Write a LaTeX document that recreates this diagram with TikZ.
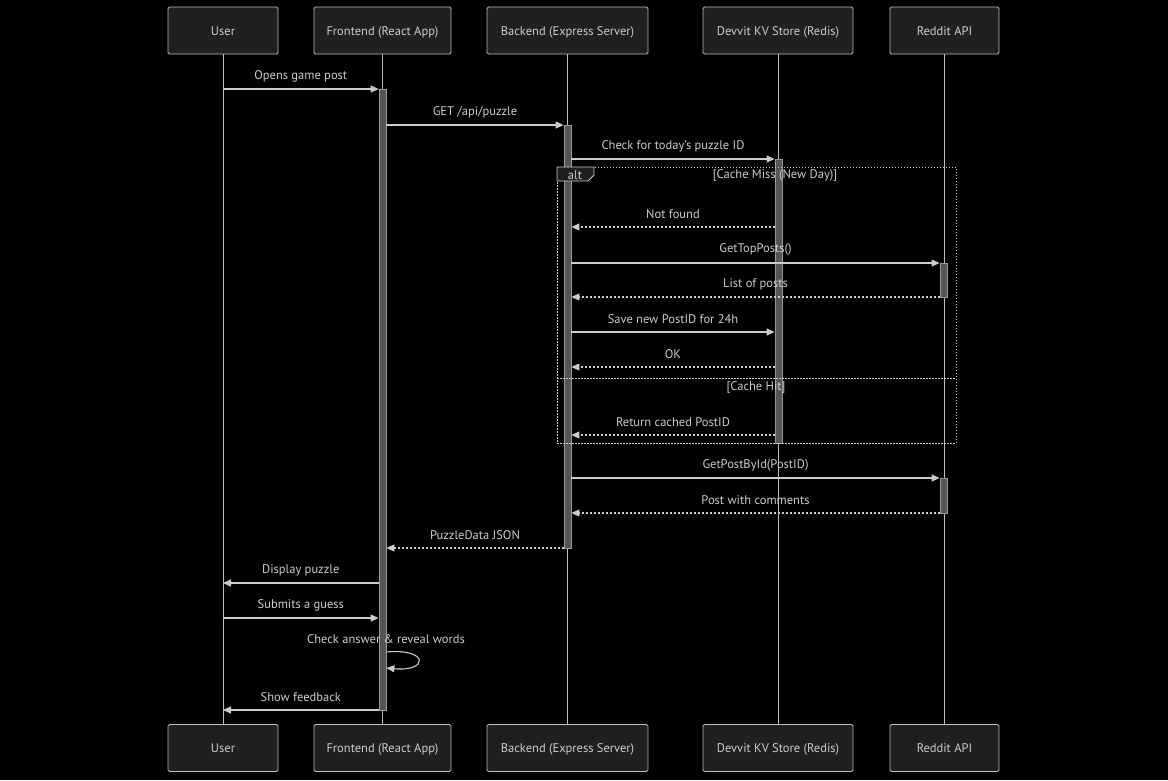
\documentclass[tikz,border=0pt]{standalone}
\usepackage{fontspec}
\setmainfont{PT Sans}
\usetikzlibrary{arrows.meta}
\definecolor{boxfill}{HTML}{1F2020}
\definecolor{boxline}{HTML}{BBBBBB}
\definecolor{txt}{HTML}{CCCCCC}
\definecolor{life}{HTML}{BBBBBB}
\definecolor{actfill}{HTML}{555555}
\definecolor{actline}{HTML}{999999}
\definecolor{msgc}{HTML}{CCCCCC}
\tikzset{
  actor/.style={draw=boxline, fill=boxfill, rounded corners=1.5pt, line width=0.8pt,
    minimum height=47pt, text=txt, font=\fontsize{12.5}{14}\selectfont, inner sep=0pt,
    text height=10pt, text depth=1pt},
  lifeline/.style={draw=life, line width=1pt},
  actbar/.style={draw=actline, fill=actfill, line width=0.8pt, minimum width=7pt, inner sep=0pt},
  msg/.style={draw=msgc, line width=1.1pt, -{Triangle[length=8pt,width=7pt]}},
  reply/.style={msg, dash pattern=on 2pt off 2pt},
  lbl/.style={text=txt, font=\fontsize{12.5}{14}\selectfont, inner sep=0pt},
  frameline/.style={draw=msgc, line width=1pt, dash pattern=on 1.5pt off 1.5pt},
}
\begin{document}
\begin{tikzpicture}[x=1pt,y=-1pt]
\useasboundingbox[fill=black] (0,0) rectangle (1168,780);
% actors top
\node[actor, minimum width=110pt] (u) at (223,30.5) {User};
\node[actor, minimum width=137pt] (fe) at (382.5,30.5) {Frontend (React App)};
\node[actor, minimum width=161pt] (be) at (567.5,30.5) {Backend (Express Server)};
\node[actor, minimum width=150pt] (kv) at (778,30.5) {Devvit KV Store (Redis)};
\node[actor, minimum width=109pt] (ra) at (944.5,30.5) {Reddit API};
% actors bottom
\node[actor, minimum width=110pt] (u2) at (223,748) {User};
\node[actor, minimum width=137pt] (fe2) at (382.5,748) {Frontend (React App)};
\node[actor, minimum width=161pt] (be2) at (567.5,748) {Backend (Express Server)};
\node[actor, minimum width=150pt] (kv2) at (778,748) {Devvit KV Store (Redis)};
\node[actor, minimum width=109pt] (ra2) at (944.5,748) {Reddit API};
% lifelines
\draw[lifeline] (u) -- (u2);
\draw[lifeline] (fe) -- (fe2);
\draw[lifeline] (be) -- (be2);
\draw[lifeline] (kv) -- (kv2);
\draw[lifeline] (ra) -- (ra2);
% activation bars
\node[actbar, minimum height=621pt] (feA) at (382.5,399.5) {};
\node[actbar, minimum height=423pt] (beA) at (567.5,336.5) {};
\node[actbar, minimum height=284pt] (kvA) at (778.5,301) {};
\node[actbar, minimum height=34pt] (raA) at (943.5,280) {};
\node[actbar, minimum height=35pt] (raB) at (943.5,495.5) {};
% alt frame
\draw[frameline] (557,167) rectangle (956,443);
\draw[frameline] (557,378) -- (956,378);
\draw[draw=msgc, fill=boxfill, line width=0.8pt] (557,167) -- (594,167) -- (594,175) -- (588,181) -- (557,181) -- cycle;
\node[lbl] (alt) at (575,175.5) {alt};
\node[lbl] (cm) at (775,175.5) {[Cache Miss (New Day)]};
\node[lbl] (ch) at (756,387.5) {[Cache Hit]};
% messages
\draw[msg] (u |- 0,89) -- (feA.west |- 0,89) node[lbl, midway, yshift=12.5pt] {Opens game post};
\draw[msg] (feA.east |- 0,125) -- (beA.west |- 0,125) node[lbl, midway, yshift=12.5pt] {GET /api/puzzle};
\draw[msg] (beA.east |- 0,159) -- (kvA.west |- 0,159) node[lbl, midway, yshift=12.5pt] {Check for today's puzzle ID};
\draw[reply] (kvA.west |- 0,227) -- (beA.east |- 0,227) node[lbl, midway, yshift=12.5pt] {Not found};
\draw[msg] (beA.east |- 0,263) -- (raA.west |- 0,263) node[lbl, midway, yshift=13.5pt] {GetTopPosts()};
\draw[reply] (raA.west |- 0,297) -- (beA.east |- 0,297) node[lbl, midway, yshift=12.5pt] {List of posts};
\draw[msg] (beA.east |- 0,332) -- (kvA.west |- 0,332) node[lbl, midway, yshift=12.5pt] {Save new PostID for 24h};
\draw[reply] (kvA.west |- 0,367) -- (beA.east |- 0,367) node[lbl, midway, yshift=12.5pt] {OK};
\draw[reply] (kvA.west |- 0,435) -- (beA.east |- 0,435) node[lbl, midway, yshift=12.5pt] {Return cached PostID};
\draw[msg] (beA.east |- 0,478) -- (raB.west |- 0,478) node[lbl, midway, yshift=12.5pt] {GetPostById(PostID)};
\draw[reply] (raB.west |- 0,513) -- (beA.east |- 0,513) node[lbl, midway, yshift=12.5pt] {Post with comments};
\draw[reply] (beA.west |- 0,548) -- (feA.east |- 0,548) node[lbl, midway, yshift=12.5pt] {PuzzleData JSON};
\draw[msg] (feA.west |- 0,583) -- (u |- 0,583) node[lbl, midway, yshift=12.5pt] {Display puzzle};
\draw[msg] (u |- 0,618) -- (feA.west |- 0,618) node[lbl, midway, yshift=12.5pt] {Submits a guess};
\node[lbl] (chk) at (386,639.5) {Check answer \& reveal words};
\coordinate (s1) at (feA.east |- 0,652);
\coordinate (s2) at (feA.east |- 0,668);
\draw[msg] (s1) .. controls (429,648) and (429,672) .. (s2);
\draw[msg] (feA.west |- 0,710) -- (u |- 0,710) node[lbl, midway, yshift=12.5pt] {Show feedback};
\end{tikzpicture}
\end{document}
